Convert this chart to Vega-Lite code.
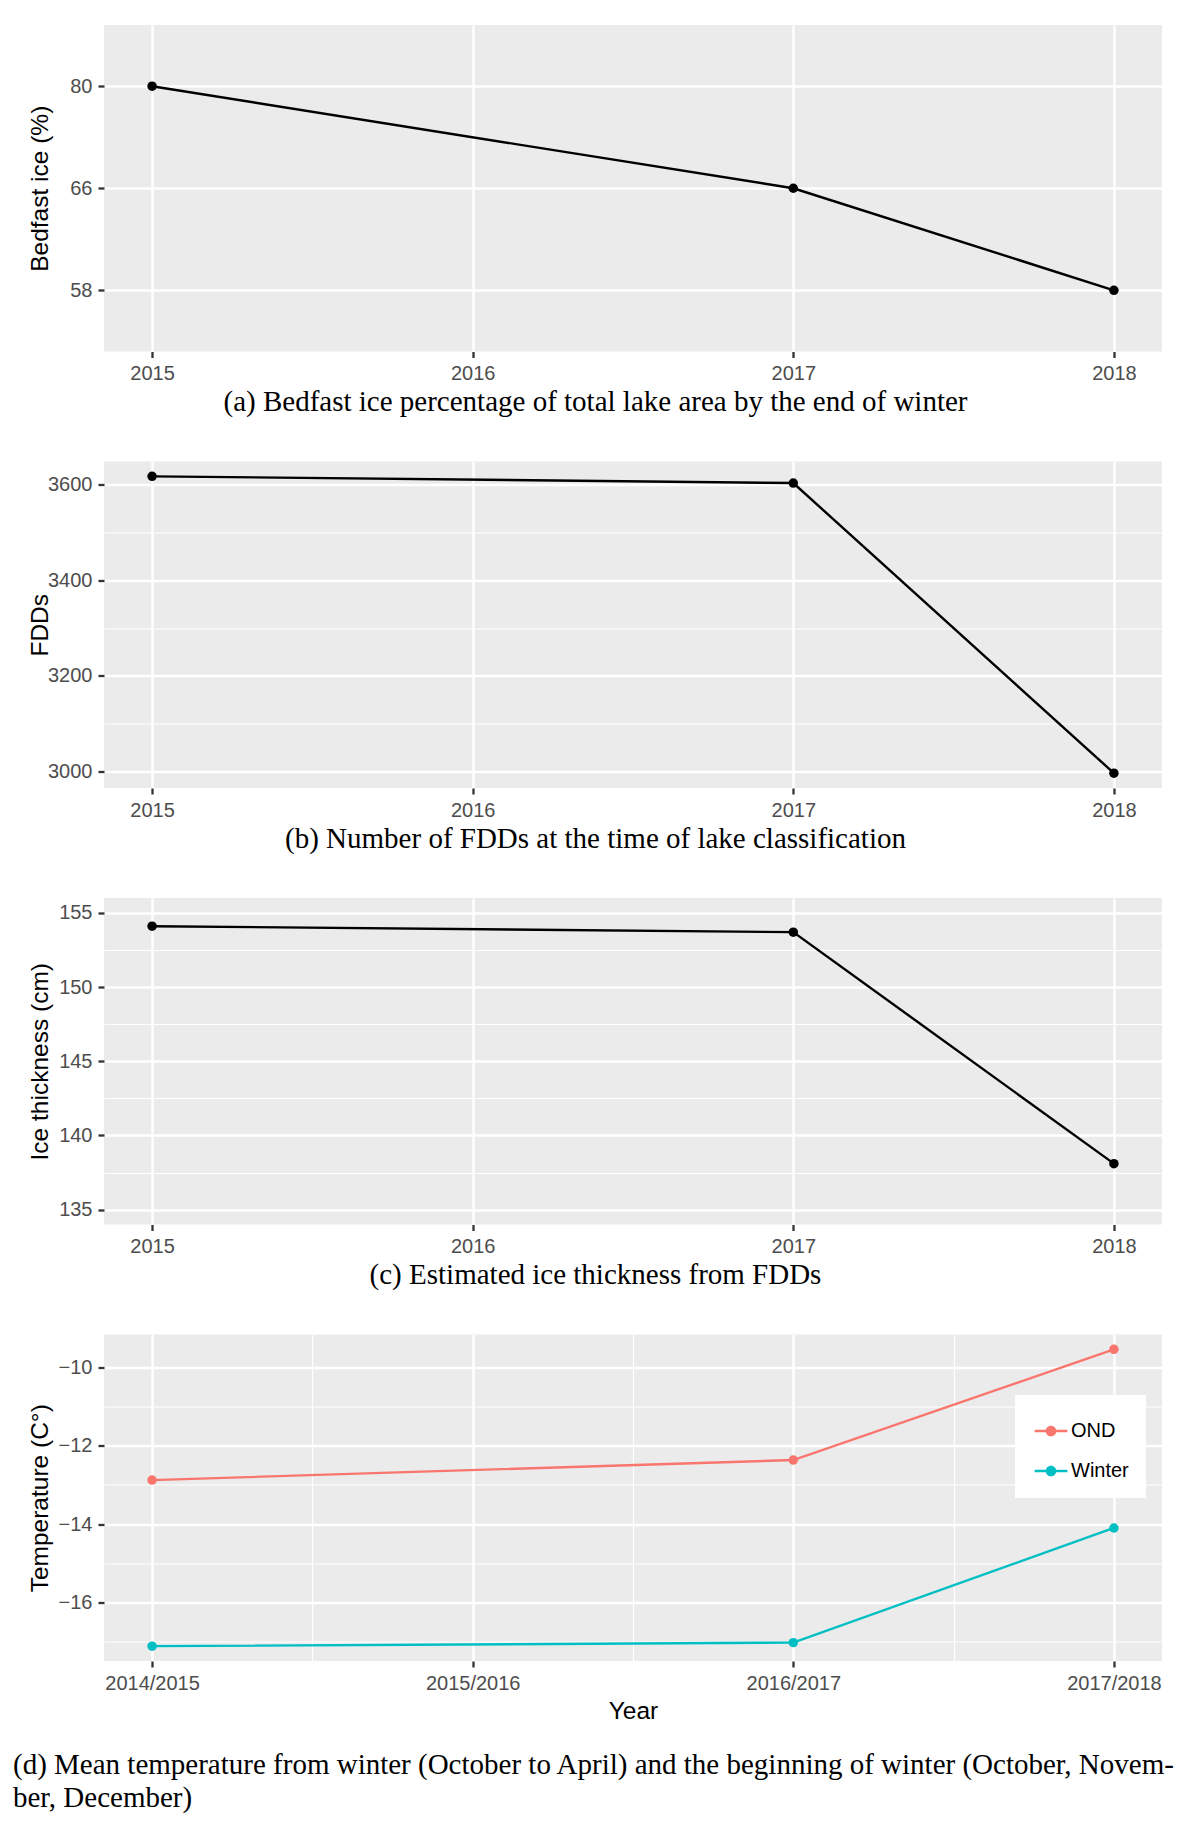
{
  "$schema": "https://vega.github.io/schema/vega-lite/v6.json",
  "background": "#FFFFFF",
  "padding": {"left": 13, "top": 25, "right": 0, "bottom": 4},
  "datasets": {
    "bedfast": [
      {"year": 2015, "bedfast": 80},
      {"year": 2017, "bedfast": 66},
      {"year": 2018, "bedfast": 58}
    ],
    "fdd": [
      {"year": 2015, "fdd": 3618},
      {"year": 2017, "fdd": 3604},
      {"year": 2018, "fdd": 2996}
    ],
    "ice": [
      {"year": 2015, "thickness": 154.1},
      {"year": 2017, "thickness": 153.7},
      {"year": 2018, "thickness": 138.1}
    ],
    "temp": [
      {"season": 2015, "series": "OND", "temp": -12.88},
      {"season": 2017, "series": "OND", "temp": -12.37},
      {"season": 2018, "series": "OND", "temp": -9.55},
      {"season": 2015, "series": "Winter", "temp": -17.11},
      {"season": 2017, "series": "Winter", "temp": -17.02},
      {"season": 2018, "series": "Winter", "temp": -14.1}
    ]
  },
  "title": {
    "text": ["(d) Mean temperature from winter (October to April) and the beginning of winter (October, Novem-", "ber, December)"],
    "orient": "bottom",
    "anchor": "start",
    "frame": "group",
    "dx": -91,
    "offset": 28.5,
    "font": "Liberation Serif",
    "fontSize": 29,
    "fontWeight": "normal",
    "color": "#000000",
    "baseline": "top",
    "lineHeight": 32.7
  },
  "spacing": 44.5,
  "vconcat": [
    {
      "width": 1058,
      "height": 326.5,
      "data": {"name": "bedfast"},
      "encoding": {
        "x": {
          "field": "year", "type": "quantitative",
          "scale": {"domain": [2014.85, 2018.15], "nice": false, "zero": false},
          "axis": {
            "values": [2015, 2015.5, 2016, 2016.5, 2017, 2017.5, 2018],
            "format": "d",
            "labelExpr": "datum.value % 1 ? '' : datum.label",
            "gridWidth": {"condition": {"test": "datum.value % 1 != 0", "value": 1.2}, "value": 2.4},
            "tickOpacity": {"condition": {"test": "datum.value % 1 != 0", "value": 0}, "value": 1},
            "title": "(a) Bedfast ice percentage of total lake area by the end of winter",
            "titleFont": "Liberation Serif", "titleFontSize": 29, "titleColor": "#000000",
            "titleX": 491, "titleY": 59, "titleBaseline": "alphabetic", "titleAlign": "center"
          }
        },
        "y": {
          "field": "bedfast", "type": "ordinal", "sort": "descending",
          "scale": {"type": "point", "padding": 0.6},
          "axis": {"title": "Bedfast ice (%)", "titleX": -56.5, "titleBaseline": "alphabetic", "labelAngle": 0}
        }
      },
      "layer": [
        {"mark": {"type": "line", "color": "#000000", "strokeWidth": 2.4}},
        {"mark": {"type": "point", "filled": true, "size": 90, "opacity": 1, "color": "#000000"}}
      ]
    },
    {
      "width": 1058,
      "height": 326.5,
      "data": {"name": "fdd"},
      "encoding": {
        "x": {
          "field": "year", "type": "quantitative",
          "scale": {"domain": [2014.85, 2018.15], "nice": false, "zero": false},
          "axis": {
            "values": [2015, 2015.5, 2016, 2016.5, 2017, 2017.5, 2018],
            "format": "d",
            "labelExpr": "datum.value % 1 ? '' : datum.label",
            "gridWidth": {"condition": {"test": "datum.value % 1 != 0", "value": 1.2}, "value": 2.4},
            "tickOpacity": {"condition": {"test": "datum.value % 1 != 0", "value": 0}, "value": 1},
            "title": "(b) Number of FDDs at the time of lake classification",
            "titleFont": "Liberation Serif", "titleFontSize": 29, "titleColor": "#000000",
            "titleX": 491, "titleY": 59, "titleBaseline": "alphabetic", "titleAlign": "center"
          }
        },
        "y": {
          "field": "fdd", "type": "quantitative",
          "scale": {"domain": [2964.9, 3649.1], "nice": false, "zero": false},
          "axis": {
            "values": [3000, 3100, 3200, 3300, 3400, 3500, 3600],
            "format": "d",
            "labelExpr": "datum.value % 200 ? '' : datum.label",
            "gridWidth": {"condition": {"test": "datum.value % 200 != 0", "value": 1.2}, "value": 2.4},
            "tickOpacity": {"condition": {"test": "datum.value % 200 != 0", "value": 0}, "value": 1},
            "title": "FDDs", "titleX": -56.5, "titleBaseline": "alphabetic"
          }
        }
      },
      "layer": [
        {"mark": {"type": "line", "color": "#000000", "strokeWidth": 2.4}},
        {"mark": {"type": "point", "filled": true, "size": 90, "opacity": 1, "color": "#000000"}}
      ]
    },
    {
      "width": 1058,
      "height": 326.5,
      "data": {"name": "ice"},
      "encoding": {
        "x": {
          "field": "year", "type": "quantitative",
          "scale": {"domain": [2014.85, 2018.15], "nice": false, "zero": false},
          "axis": {
            "values": [2015, 2015.5, 2016, 2016.5, 2017, 2017.5, 2018],
            "format": "d",
            "labelExpr": "datum.value % 1 ? '' : datum.label",
            "gridWidth": {"condition": {"test": "datum.value % 1 != 0", "value": 1.2}, "value": 2.4},
            "tickOpacity": {"condition": {"test": "datum.value % 1 != 0", "value": 0}, "value": 1},
            "title": "(c) Estimated ice thickness from FDDs",
            "titleFont": "Liberation Serif", "titleFontSize": 29, "titleColor": "#000000",
            "titleX": 491, "titleY": 59, "titleBaseline": "alphabetic", "titleAlign": "center"
          }
        },
        "y": {
          "field": "thickness", "type": "quantitative",
          "scale": {"domain": [134, 156], "nice": false, "zero": false},
          "axis": {
            "values": [135, 137.5, 140, 142.5, 145, 147.5, 150, 152.5, 155],
            "format": "d",
            "labelExpr": "datum.value % 5 ? '' : datum.label",
            "gridWidth": {"condition": {"test": "datum.value % 5 != 0", "value": 1.2}, "value": 2.4},
            "tickOpacity": {"condition": {"test": "datum.value % 5 != 0", "value": 0}, "value": 1},
            "title": "Ice thickness (cm)", "titleX": -56.5, "titleBaseline": "alphabetic"
          }
        }
      },
      "layer": [
        {"mark": {"type": "line", "color": "#000000", "strokeWidth": 2.4}},
        {"mark": {"type": "point", "filled": true, "size": 90, "opacity": 1, "color": "#000000"}}
      ]
    },
    {
      "width": 1058,
      "height": 326.5,
      "data": {"name": "temp"},
      "encoding": {
        "x": {
          "field": "season", "type": "quantitative",
          "scale": {"domain": [2014.85, 2018.15], "nice": false, "zero": false},
          "axis": {
            "values": [2015, 2015.5, 2016, 2016.5, 2017, 2017.5, 2018],
            "labelExpr": "datum.value % 1 ? '' : (datum.value - 1) + '/' + datum.value",
            "gridWidth": {"condition": {"test": "datum.value % 1 != 0", "value": 1.2}, "value": 2.4},
            "tickOpacity": {"condition": {"test": "datum.value % 1 != 0", "value": 0}, "value": 1},
            "title": "Year", "titleY": 57.3, "titleBaseline": "alphabetic"
          }
        },
        "y": {
          "field": "temp", "type": "quantitative",
          "scale": {"domain": [-17.488, -9.172], "nice": false, "zero": false},
          "axis": {
            "values": [-17, -16, -15, -14, -13, -12, -11, -10],
            "format": "d",
            "labelExpr": "datum.value % 2 ? '' : datum.label",
            "gridWidth": {"condition": {"test": "datum.value % 2 != 0", "value": 1.2}, "value": 2.4},
            "tickOpacity": {"condition": {"test": "datum.value % 2 != 0", "value": 0}, "value": 1},
            "title": "Temperature (C°)", "titleX": -56.5, "titleBaseline": "alphabetic"
          }
        },
        "color": {
          "field": "series", "type": "nominal",
          "scale": {"domain": ["OND", "Winter"], "range": ["#F8766D", "#00BFC4"]},
          "legend": {
            "orient": "none", "legendX": 911, "legendY": 1370,
            "title": null, "fillColor": "#FFFFFF", "padding": 17,
            "symbolType": "M-0.86,-0.064H0.86V0.064H-0.86Z M0.28,0A0.28,0.28,0,1,1,-0.28,0A0.28,0.28,0,1,1,0.28,0Z",
            "symbolSize": 1444, "symbolStrokeWidth": 0, "symbolOpacity": 1,
            "labelFont": "Liberation Sans", "labelFontSize": 20, "labelColor": "#000000",
            "labelOffset": 1, "rowPadding": 11
          }
        }
      },
      "layer": [
        {"mark": {"type": "point", "filled": true, "size": 90, "opacity": 1}},
        {"mark": {"type": "line", "strokeWidth": 2.4}}
      ]
    }
  ],
  "config": {
    "view": {"fill": "#EBEBEB", "stroke": null},
    "axis": {
      "domain": false,
      "grid": true,
      "gridColor": "#FFFFFF",
      "gridWidth": 2.4,
      "tickColor": "#333333",
      "tickWidth": 2.3,
      "tickSize": 6,
      "labelColor": "#4D4D4D",
      "labelFont": "Liberation Sans",
      "labelFontSize": 20,
      "labelPadding": 6,
      "labelFlush": false,
      "labelOverlap": false,
      "titleFont": "Liberation Sans",
      "titleFontSize": 24.5,
      "titleFontWeight": "normal",
      "titleColor": "#000000"
    }
  }
}
